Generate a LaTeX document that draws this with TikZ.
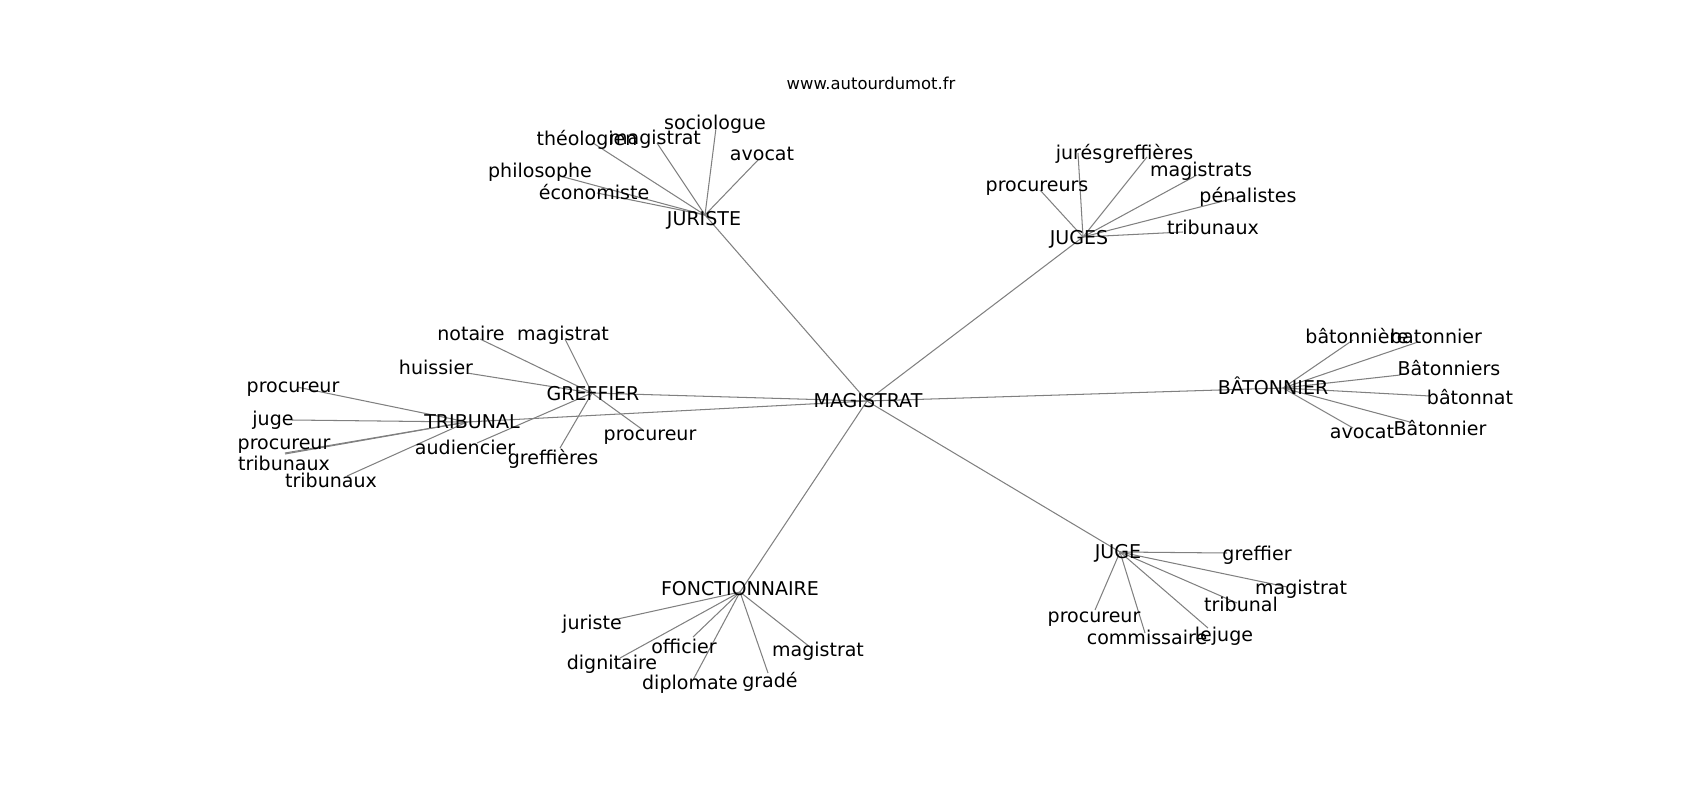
\documentclass[tikz,border=0pt]{standalone}
\usepackage{fontspec}
\setmainfont{DejaVu Sans}
\begin{document}
\begin{tikzpicture}[x=0.72pt,y=-0.72pt,
  word/.style={inner sep=0pt, text height=0.76em, text depth=0.24em, yshift=-2.9pt, font=\fontsize{13.7}{16}\selectfont, text=black},
  urltext/.style={inner sep=0pt, text height=0.76em, text depth=0.24em, yshift=-2.9pt, font=\fontsize{11.8}{14}\selectfont, text=black},
  link/.style={draw=black!50, line width=0.75pt}]
\useasboundingbox (0,0) rectangle (1700,800);

% ---------- node centres ----------
\coordinate (hub) at (867,401);
\coordinate (jur) at (705,215);
\coordinate (cTheo) at (593,143);
\coordinate (cJmag) at (657,143);
\coordinate (cSocio) at (716,128);
\coordinate (cJavo) at (758,160);
\coordinate (cPhilo) at (560,176);
\coordinate (cEcon) at (597,193);

\coordinate (juges) at (1083,237);
\coordinate (cJures) at (1078,153);
\coordinate (cGreffs) at (1147,157);
\coordinate (cMags) at (1197,175);
\coordinate (cProcs) at (1040,190);
\coordinate (cPenal) at (1243,196);
\coordinate (cTribx) at (1183,232);

\coordinate (bat) at (1283,388);
\coordinate (cB1) at (1353,340);
\coordinate (cB2) at (1418,342);
\coordinate (cB3) at (1400,375);
\coordinate (cB4) at (1430,396);
\coordinate (cB5) at (1353,428);
\coordinate (cB6) at (1410,422);

\coordinate (gref) at (592,393);
\coordinate (cNot) at (480,339);
\coordinate (cGmag) at (565,339);
\coordinate (cHuis) at (467,373);
\coordinate (cGproc) at (643,430);
\coordinate (cGreffs2) at (560,448);
\coordinate (cAud) at (477,443);

\coordinate (trib) at (467,422);
\coordinate (cTp1) at (297,387);
\coordinate (cJuge) at (292,420);
\coordinate (cTp2) at (285,453);
\coordinate (cTt1) at (285,454);
\coordinate (cTt2) at (347,476);

\coordinate (juge) at (1120,552);
\coordinate (cGref) at (1227,553);
\coordinate (cJm) at (1287,587);
\coordinate (cTrib) at (1237,603);
\coordinate (cJp) at (1095,610);
\coordinate (cComm) at (1145,633);
\coordinate (cLej) at (1208,628);

\coordinate (fonc) at (740,592);
\coordinate (cJur) at (613,620);
\coordinate (cOff) at (693,637);
\coordinate (cDig) at (620,658);
\coordinate (cFm) at (810,647);
\coordinate (cDip) at (693,680);
\coordinate (cGrade) at (768,673);

% ---------- edges ----------
\foreach \t in {jur,juges,bat,gref,trib,juge,fonc} \draw[link] (hub) -- (\t);
\foreach \t in {cTheo,cJmag,cSocio,cJavo,cPhilo,cEcon} \draw[link] (jur) -- (\t);
\foreach \t in {cJures,cGreffs,cMags,cProcs,cPenal,cTribx} \draw[link] (juges) -- (\t);
\foreach \t in {cB1,cB2,cB3,cB4,cB5,cB6} \draw[link] (bat) -- (\t);
\foreach \t in {cNot,cGmag,cHuis,cGproc,cGreffs2,cAud} \draw[link] (gref) -- (\t);
\foreach \t in {cTp1,cJuge,cTp2,cTt1,cTt2} \draw[link] (trib) -- (\t);
\foreach \t in {cGref,cJm,cTrib,cJp,cComm,cLej} \draw[link] (juge) -- (\t);
\foreach \t in {cJur,cOff,cDig,cFm,cDip,cGrade} \draw[link] (fonc) -- (\t);

% ---------- labels ----------
\node[urltext] (url) at (871,82) {www.autourdumot.fr};
\node[word] (tHub) at (868,400) {MAGISTRAT};

\node[word] (tJur) at (704,218) {JURISTE};
\node[word] (tTheo) at (587,138) {théologien};
\node[word] (tJmag) at (655,137) {magistrat};
\node[word] (tSocio) at (715,122) {sociologue};
\node[word] (tJavo) at (762,153) {avocat};
\node[word] (tPhilo) at (540,170) {philosophe};
\node[word] (tEcon) at (594,192) {économiste};

\node[word] (tJuges) at (1079,237) {JUGES};
\node[word] (tJures) at (1079,152) {jurés};
\node[word] (tGreffs) at (1148,152) {greffières};
\node[word] (tMags) at (1201,169) {magistrats};
\node[word] (tProcs) at (1037,184) {procureurs};
\node[word] (tPenal) at (1248,195) {pénalistes};
\node[word] (tTribx) at (1213,227) {tribunaux};

\node[word] (tBat) at (1273,387) {BÂTONNIER};
\node[word] (tB1) at (1357,336) {bâtonnière};
\node[word] (tB2) at (1436,336) {batonnier};
\node[word] (tB3) at (1449,368) {Bâtonniers};
\node[word] (tB4) at (1470,397) {bâtonnat};
\node[word] (tB5) at (1362,431) {avocat};
\node[word] (tB6) at (1440,428) {Bâtonnier};

\node[word] (tGref) at (593,393) {GREFFIER};
\node[word] (tNot) at (471,333) {notaire};
\node[word] (tGmag) at (563,333) {magistrat};
\node[word] (tHuis) at (436,367) {huissier};
\node[word] (tGproc) at (650,433) {procureur};
\node[word] (tGreffs2) at (553,457) {greffières};
\node[word] (tAud) at (465,447) {audiencier};

\node[word] (tTrib) at (472,421) {TRIBUNAL};
\node[word] (tTp1) at (293,385) {procureur};
\node[word] (tJuge) at (273,418) {juge};
\node[word] (tTp2) at (284,442) {procureur};
\node[word] (tTt1) at (284,463) {tribunaux};
\node[word] (tTt2) at (331,480) {tribunaux};

\node[word] (tJugeS) at (1118,551) {JUGE};
\node[word] (tGrefS) at (1257,553) {greffier};
\node[word] (tJm) at (1301,587) {magistrat};
\node[word] (tTribS) at (1241,604) {tribunal};
\node[word] (tJp) at (1094,615) {procureur};
\node[word] (tComm) at (1147,637) {commissaire};
\node[word] (tLej) at (1224,634) {lejuge};

\node[word] (tFonc) at (740,588) {FONCTIONNAIRE};
\node[word] (tJurS) at (592,622) {juriste};
\node[word] (tOff) at (684,646) {officier};
\node[word] (tDig) at (612,662) {dignitaire};
\node[word] (tFm) at (818,649) {magistrat};
\node[word] (tDip) at (690,682) {diplomate};
\node[word] (tGrade) at (770,680) {gradé};
\end{tikzpicture}
\end{document}
